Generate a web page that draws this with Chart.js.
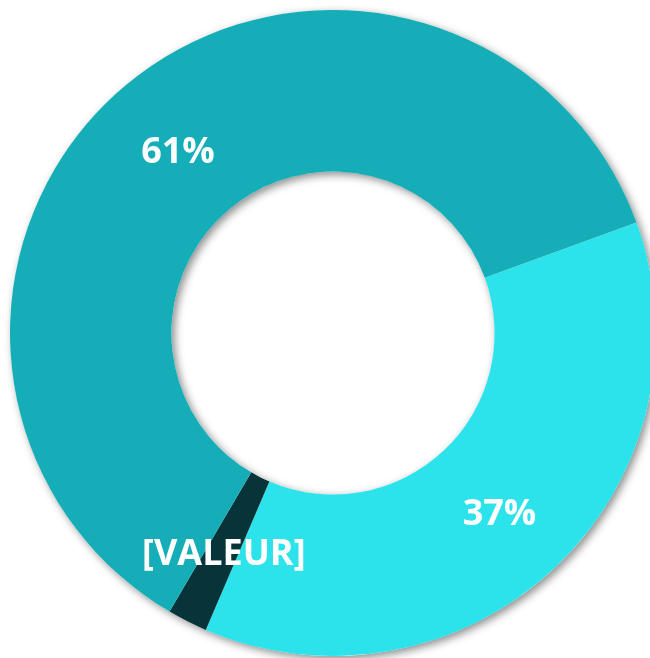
<!DOCTYPE html>
<html>
<head>
<meta charset="utf-8">
<script src="https://cdn.jsdelivr.net/npm/chart.js@4"></script>
<style>
  html, body { margin: 0; padding: 0; background: #fff; overflow: hidden; }
  #wrap { position: absolute; left: 0; top: 0; width: 666px; height: 666px; }
</style>
</head>
<body>
<div id="wrap"><canvas id="myChart" width="666" height="666"></canvas></div>
<script>
const categories = ['B', 'C', 'A'];
const values = [37, 2, 61];
const valueLabels = ['37%', '[VALEUR]', '61%'];
const colors = ['#2DE3EB', '#063438', '#15AEB8'];

// ring shadow drawn under the arcs
const ringShadow = {
  id: 'ringShadow',
  beforeDatasetsDraw(chart) {
    const arc = chart.getDatasetMeta(0).data[0];
    if (!arc) return;
    const { x, y, innerRadius, outerRadius } = arc.getProps(['x', 'y', 'innerRadius', 'outerRadius'], true);
    const ctx = chart.ctx;
    ctx.save();
    ctx.shadowColor = 'rgba(0,0,0,0.45)';
    ctx.shadowBlur = 9;
    ctx.shadowOffsetX = 3;
    ctx.shadowOffsetY = 3;
    ctx.fillStyle = '#ffffff';
    ctx.beginPath();
    ctx.arc(x, y, outerRadius, 0, Math.PI * 2);
    ctx.arc(x, y, innerRadius, 0, Math.PI * 2, true);
    ctx.fill();
    ctx.restore();
  }
};

const sliceLabels = {
  id: 'sliceLabels',
  afterDatasetsDraw(chart) {
    const ctx = chart.ctx;
    ctx.save();
    ctx.fillStyle = '#ffffff';
    ctx.font = 'bold 36px "Open Sans"';
    ctx.textAlign = 'center';
    ctx.textBaseline = 'middle';
    chart.getDatasetMeta(0).data.forEach((arc, i) => {
      const p = arc.tooltipPosition();
      ctx.fillText(valueLabels[i], p.x, p.y + 6);
    });
    ctx.restore();
  }
};

new Chart(document.getElementById('myChart'), {
  type: 'doughnut',
  data: {
    labels: categories,
    datasets: [{
      data: values,
      backgroundColor: colors,
      borderWidth: 0
    }]
  },
  options: {
    responsive: false,
    animation: false,
    cutout: '50%',
    rotation: 70,
    layout: { padding: 10 },
    plugins: {
      legend: { display: false },
      tooltip: { enabled: false }
    }
  },
  plugins: [ringShadow, sliceLabels]
});
</script>
</body>
</html>
